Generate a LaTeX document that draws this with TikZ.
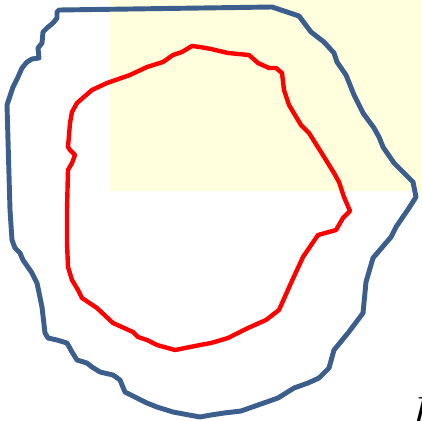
\documentclass[tikz,border=0pt]{standalone}
\usepackage{tikz}
\usetikzlibrary{calc}
\definecolor{fblue}{RGB}{59,94,140}
\definecolor{fred}{RGB}{255,0,0}
\definecolor{fpale}{RGB}{255,255,221}

\begin{document}
\begin{tikzpicture}[x=0.02cm, y=-0.02cm,
  outer/.style={draw=fblue, line width=2.8pt, line join=round, line cap=round},
  inner/.style={draw=fred, line width=2.5pt, line join=round, line cap=round}]
\useasboundingbox (0,0) rectangle (422,420);
\begin{scope}
\clip (0,0) rectangle (422,420);
% ---- shaded quadrant ----------------------------------------------
\fill[fpale] (110,0) rectangle (422,191);
% ---- outer contour ------------------------------------------------
\draw[outer] (59,10) -- (272,7) -- (299,16) -- (311,32) -- (324,42)
  -- (334,53) -- (337,62) -- (346,75) -- (354,95) -- (363,113)
  -- (374,128) -- (379,137) -- (383,147) -- (394,163) -- (404,173)
  -- (413,182) -- (416,197) -- (409,208) -- (396,227) -- (391,237)
  -- (373,258) -- (366,282) -- (363,313) -- (348,333) -- (334,350)
  -- (329,368) -- (319,378) -- (308,383) -- (294,388) -- (278,398)
  -- (258,405) -- (241,411) -- (224,413) -- (211,415) -- (200,417)
  -- (173,412) -- (157,407) -- (147,403) -- (125,392) -- (120,380)
  -- (113,375) -- (100,372) -- (92,367) -- (87,363) -- (77,360)
  -- (72,352) -- (67,343) -- (57,340) -- (48,338) -- (45,333)
  -- (42,307) -- (37,283) -- (32,273) -- (23,260) -- (20,253)
  -- (15,248) -- (12,240) -- (10,210) -- (7,105) -- (13,87)
  -- (18,77) -- (22,68) -- (27,62) -- (32,59) -- (39,58)
  -- (38,48) -- (42,43) -- (43,32) -- (47,28) -- (53,23)
  -- (57,18) -- (57,12) -- cycle;
% ---- inner contour ------------------------------------------------
\draw[inner] (68,170) -- (72,163) -- (75,155) -- (70,150) -- (68,147)
  -- (70,123) -- (72,112) -- (77,103) -- (92,90) -- (107,83)
  -- (130,75) -- (147,67) -- (163,62) -- (173,55) -- (182,52)
  -- (192,46) -- (200,47) -- (211,49) -- (228,53) -- (249,55)
  -- (258,63) -- (269,68) -- (276,68) -- (282,73) -- (284,90)
  -- (289,105) -- (301,125) -- (309,133) -- (321,152) -- (334,173)
  -- (339,182) -- (344,197) -- (350,211) -- (343,218) -- (336,230)
  -- (318,235) -- (303,257) -- (291,283) -- (279,310) -- (266,320)
  -- (248,328) -- (228,338) -- (211,343) -- (200,345) -- (175,350)
  -- (157,345) -- (147,340) -- (138,337) -- (133,332) -- (113,323)
  -- (97,308) -- (82,298) -- (78,290) -- (72,280) -- (68,267)
  -- (67,243) -- (67,210) -- cycle;
% ---- label --------------------------------------------------------
\node[anchor=north west, inner sep=0pt, font=\fontsize{26}{26}\selectfont]
  (lbl) at (409,397) {$D$};
\end{scope}
\end{tikzpicture}
\end{document}
